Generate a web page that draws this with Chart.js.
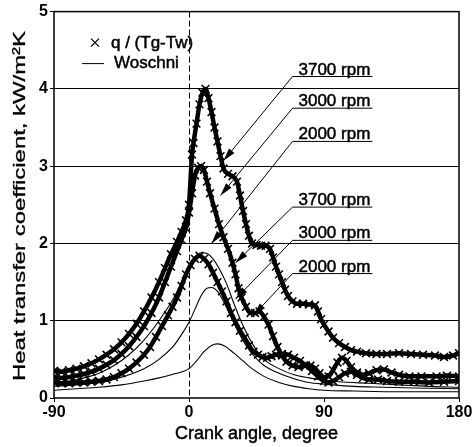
<!doctype html>
<html lang="en">
<head>
<meta charset="utf-8">
<title>Heat transfer coefficient vs crank angle</title>
<script src="https://cdn.jsdelivr.net/npm/chart.js"></script>
<style>
  html, body { margin: 0; padding: 0; background: #fff; }
  #chart { display: block; }
</style>
</head>
<body>
<canvas id="chart" width="476" height="447"></canvas>
<script>
// measured q/(Tg-Tw), kW/m2K, against crank angle in degrees
const ang3700 = [-90,-85,-80,-75,-70,-65,-60,-55,-50,-45,-40,-35,-30,-25,-20,-16,-12,-8,-5,-2,0,2,3,5,7,9,11,13,15,17,19,21,23,26,29,32,34,36,38,40,42,45,48,51,54,56,58,60,62,64,66,69,72,76,80,84,86,88,90,93,96,100,104,108,112,118,125,132,140,148,156,164,170,176,180];
const q3700 = [0.35,0.34,0.36,0.38,0.41,0.45,0.5,0.56,0.63,0.72,0.83,0.96,1.12,1.3,1.5,1.68,1.86,2.02,2.15,2.3,2.5,3.15,3.3,3.55,3.8,3.95,4.0,3.88,3.7,3.5,3.32,3.13,2.97,2.9,2.87,2.8,2.62,2.42,2.25,2.1,2.0,1.98,1.97,1.97,1.93,1.82,1.7,1.6,1.5,1.4,1.32,1.25,1.22,1.22,1.21,1.2,1.12,1.02,0.95,0.86,0.78,0.71,0.66,0.62,0.6,0.58,0.57,0.57,0.58,0.57,0.56,0.55,0.53,0.55,0.58];

const ang3000 = [-90,-85,-80,-75,-70,-65,-60,-55,-50,-45,-40,-35,-30,-25,-20,-16,-12,-8,-5,-2,0,2,4,6,8,10,12,14,17,20,23,26,29,31,33,35,38,41,44,47,50,53,56,59,62,65,69,73,77,81,84,87,90,93,96,99,102,105,108,112,116,120,125,130,135,140,147,155,165,172,180];
const q3000 = [0.27,0.26,0.27,0.29,0.31,0.34,0.38,0.43,0.49,0.57,0.67,0.79,0.93,1.1,1.3,1.5,1.7,1.9,2.05,2.2,2.4,2.65,2.88,2.98,3.0,2.95,2.8,2.65,2.45,2.25,2.08,1.93,1.75,1.6,1.42,1.3,1.18,1.1,1.1,1.12,1.05,0.95,0.8,0.66,0.55,0.47,0.42,0.4,0.42,0.42,0.38,0.32,0.27,0.28,0.36,0.46,0.52,0.48,0.4,0.33,0.3,0.32,0.36,0.37,0.33,0.3,0.28,0.28,0.28,0.29,0.28];

const ang2000 = [-90,-85,-80,-75,-70,-65,-60,-55,-50,-45,-40,-35,-30,-26,-22,-18,-14,-11,-8,-5,-2,1,4,7,10,13,16,19,22,25,28,31,34,37,40,43,46,49,52,55,58,62,66,70,74,78,82,86,90,93,96,100,104,108,112,116,120,126,132,140,150,160,170,180];
const q2000 = [0.2,0.19,0.19,0.2,0.2,0.21,0.22,0.24,0.27,0.32,0.38,0.46,0.56,0.66,0.79,0.93,1.07,1.18,1.3,1.45,1.6,1.72,1.8,1.84,1.8,1.73,1.62,1.5,1.38,1.25,1.1,0.98,0.87,0.78,0.68,0.6,0.56,0.53,0.52,0.54,0.56,0.57,0.56,0.52,0.48,0.42,0.35,0.28,0.22,0.2,0.22,0.27,0.32,0.34,0.3,0.26,0.24,0.24,0.22,0.21,0.21,0.2,0.21,0.22];

// Woschni correlation
const angW3700 = [-90,-80,-70,-60,-50,-40,-30,-20,-10,-5,0,4,8,12,16,20,25,30,35,40,45,50,60,70,80,90,100,120,140,160,180];
const w3700 = [0.2,0.22,0.26,0.32,0.42,0.56,0.75,1.0,1.3,1.5,1.68,1.82,1.88,1.87,1.8,1.68,1.48,1.22,0.98,0.78,0.62,0.5,0.38,0.3,0.26,0.23,0.21,0.19,0.17,0.15,0.14];

const angW3000 = [-90,-75,-60,-45,-30,-20,-10,-5,0,4,8,12,15,19,23,28,33,38,43,50,60,70,80,90,110,130,150,180];
const w3000 = [0.15,0.17,0.2,0.27,0.38,0.5,0.68,0.82,0.98,1.15,1.32,1.42,1.43,1.38,1.25,1.05,0.85,0.68,0.55,0.42,0.32,0.25,0.2,0.18,0.15,0.14,0.13,0.12];

const angW2000 = [-90,-75,-60,-45,-30,-20,-10,0,5,10,15,19,24,30,36,42,50,60,70,80,90,110,140,180];
const w2000 = [0.1,0.12,0.14,0.17,0.22,0.26,0.31,0.38,0.48,0.6,0.68,0.7,0.67,0.58,0.48,0.38,0.28,0.2,0.15,0.12,0.1,0.09,0.08,0.08];

// axis
const xTicks = [-90, 0, 90, 180];
const yTicks = [0, 1, 2, 3, 4, 5];

// rpm callouts: label anchor (angle, value) and arrow tip (angle, value)
const calloutText = ['3700 rpm', '3000 rpm', '2000 rpm', '3700 rpm', '3000 rpm', '2000 rpm'];
const calloutAnchor = [[69, 4.16], [69, 3.75], [69, 3.32], [69, 2.47], [69, 2.04], [69, 1.61]];
const calloutTip = [[23, 3.07], [21, 2.62], [15, 2.0], [31, 1.75], [31, 1.28], [43, 1.07]];

const FONT = '"Liberation Sans", Arial, sans-serif';

function pts(xs, ys) {
  return xs.map((x, i) => ({x: x, y: ys[i]}));
}

function measured(data) {
  return {
    data: data,
    showLine: true,
    borderColor: '#000',
    borderWidth: 4.5,
    cubicInterpolationMode: 'monotone',
    pointStyle: 'crossRot',
    pointRadius: 5.5,
    pointBorderWidth: 1.6,
    pointBorderColor: '#000',
    pointBackgroundColor: '#000'
  };
}

function woschni(data) {
  return {
    data: data,
    showLine: true,
    borderColor: '#000',
    borderWidth: 1.1,
    cubicInterpolationMode: 'monotone',
    pointRadius: 0
  };
}

// heavier text, like the printed figure
function heavyText(ctx, s, x, y) {
  ctx.fillText(s, x, y);
  ctx.strokeText(s, x, y);
}

const decor = {
  id: 'decor',
  afterDatasetsDraw(chart) {
    const ctx = chart.ctx;
    const xs = chart.scales.x, ys = chart.scales.y;
    const a = chart.chartArea;
    ctx.save();

    // frame
    ctx.strokeStyle = '#000';
    ctx.lineWidth = 1.5;
    ctx.strokeRect(a.left, a.top, a.right - a.left, a.bottom - a.top);

    // callouts
    ctx.font = '17px ' + FONT;
    ctx.textBaseline = 'alphabetic';
    ctx.textAlign = 'left';
    ctx.fillStyle = '#000';
    for (let i = 0; i < calloutText.length; i++) {
      const ax = xs.getPixelForValue(calloutAnchor[i][0]);
      const ay = ys.getPixelForValue(calloutAnchor[i][1]);
      const tx = xs.getPixelForValue(calloutTip[i][0]);
      const ty = ys.getPixelForValue(calloutTip[i][1]);
      const w = ctx.measureText(calloutText[i]).width;
      ctx.lineWidth = 0.5;
      heavyText(ctx, calloutText[i], ax + 6, ay - 2);
      ctx.lineWidth = 1;
      ctx.beginPath();
      ctx.moveTo(ax + 6 + w + 2, ay);
      ctx.lineTo(ax, ay);
      ctx.lineTo(tx, ty);
      ctx.stroke();
      // arrow head
      const ang = Math.atan2(ty - ay, tx - ax);
      const L = 13, H = 3.5;
      ctx.beginPath();
      ctx.moveTo(tx, ty);
      ctx.lineTo(tx - L * Math.cos(ang) + H * Math.sin(ang), ty - L * Math.sin(ang) - H * Math.cos(ang));
      ctx.lineTo(tx - L * Math.cos(ang) - H * Math.sin(ang), ty - L * Math.sin(ang) + H * Math.cos(ang));
      ctx.closePath();
      ctx.fill();
    }

    // legend
    const lx = a.left, ly = a.top;
    ctx.lineWidth = 1.3;
    ctx.beginPath();
    ctx.moveTo(lx + 37, ly + 27); ctx.lineTo(lx + 45, ly + 35);
    ctx.moveTo(lx + 45, ly + 27); ctx.lineTo(lx + 37, ly + 35);
    ctx.stroke();
    ctx.lineWidth = 1;
    ctx.beginPath();
    ctx.moveTo(lx + 28, ly + 52); ctx.lineTo(lx + 50, ly + 52);
    ctx.stroke();
    ctx.textBaseline = 'middle';
    ctx.lineWidth = 0.5;
    heavyText(ctx, 'q / (Tg-Tw)', lx + 57, ly + 32);
    heavyText(ctx, 'Woschni', lx + 60, ly + 52);

    // axis titles
    ctx.textAlign = 'center';
    ctx.font = '18px ' + FONT;
    heavyText(ctx, 'Crank angle, degree', (a.left + a.right) / 2, 434);
    const yTitle = 'Heat transfer coefficient, kW/m\u00B2K';
    ctx.font = '17px ' + FONT;
    ctx.lineWidth = 0.3;
    ctx.translate(20, 206);
    ctx.rotate(-Math.PI / 2);
    ctx.scale(350 / ctx.measureText(yTitle).width, 1);
    heavyText(ctx, yTitle, 0, 0);
    ctx.restore();
  }
};

new Chart(document.getElementById('chart'), {
  type: 'scatter',
  data: {
    datasets: [
      measured(pts(ang3700, q3700)),
      measured(pts(ang3000, q3000)),
      measured(pts(ang2000, q2000)),
      woschni(pts(angW3700, w3700)),
      woschni(pts(angW3000, w3000)),
      woschni(pts(angW2000, w2000))
    ]
  },
  options: {
    responsive: false,
    animation: false,
    devicePixelRatio: 1,
    layout: {padding: {left: 0, right: 17, top: 10, bottom: 0}},
    plugins: {legend: {display: false}, tooltip: {enabled: false}},
    scales: {
      x: {
        type: 'linear',
        min: xTicks[0], max: xTicks[xTicks.length - 1],
        afterBuildTicks: s => { s.ticks = xTicks.map(v => ({value: v})); },
        afterFit: s => { s.height = 49; },
        border: {display: false, dash: [6, 3]},
        grid: {
          color: c => c.tick && c.tick.value === 0 ? '#000' : 'rgba(0,0,0,0)',
          tickColor: '#000',
          tickLength: 4,
          lineWidth: 1
        },
        ticks: {color: '#000', font: {family: FONT, size: 16, weight: 'bold'}, padding: 1, maxRotation: 0}
      },
      y: {
        min: yTicks[0], max: yTicks[yTicks.length - 1],
        afterBuildTicks: s => { s.ticks = yTicks.map(v => ({value: v})); },
        afterFit: s => { s.width = 54; },
        border: {display: false},
        grid: {
          color: c => c.tick && c.tick.value > 0 && c.tick.value < 5 ? '#000' : 'rgba(0,0,0,0)',
          tickColor: '#000',
          tickLength: 4,
          lineWidth: 1
        },
        ticks: {color: '#000', font: {family: FONT, size: 16, weight: 'bold'}, padding: 2}
      }
    }
  },
  plugins: [decor]
});
</script>
</body>
</html>
